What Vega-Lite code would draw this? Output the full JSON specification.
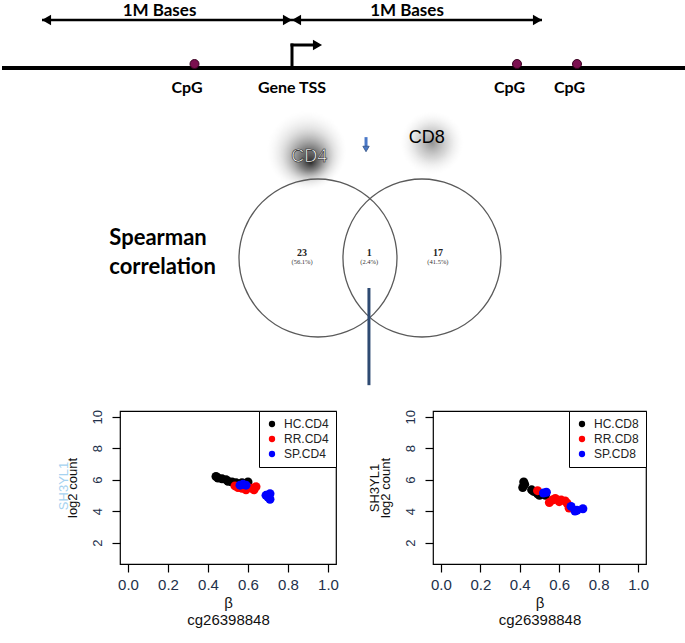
{
  "$schema": "https://vega.github.io/schema/vega-lite/v6.json",
  "padding": 0,
  "spacing": 0,
  "background": "white",
  "config": {
    "view": {"stroke": null},
    "font": "Liberation Sans",
    "axis": {"labelFont": "Liberation Sans", "titleFont": "Liberation Sans"},
    "axisY": {"labelOverlap": false, "labelSeparation": 0},
    "axisQuantitative": {"labelOverlap": false},
    "legend": {"labelFont": "Liberation Sans"}
  },
  "vconcat": [
    {
      "width": 685,
      "height": 100,
      "view": {"stroke": null},
      "encoding": {
        "x": {"field": "pos", "type": "quantitative", "scale": {"domain": [-1.16, 1.58], "nice": false, "zero": false}, "axis": null},
        "y": {"field": "level", "type": "quantitative", "scale": {"domain": [-32, 68], "nice": false, "zero": false}, "axis": null}
      },
      "layer": [
        {
          "data": {"values": [{"part": "chromosome", "pos": -1.16, "pos2": 1.58, "level": 0, "level2": 0}]},
          "mark": {"type": "rule", "color": "black", "strokeWidth": 4},
          "encoding": {"x2": {"field": "pos2"}, "y2": {"field": "level2"}}
        },
        {
          "data": {"values": [
            {"part": "tss stem", "pos": 0, "pos2": 0, "level": 0, "level2": 23},
            {"part": "tss arm", "pos": 0, "pos2": 0.1, "level": 23, "level2": 23}
          ]},
          "mark": {"type": "rule", "color": "black", "strokeWidth": 3, "strokeCap": "square"},
          "encoding": {"x2": {"field": "pos2"}, "y2": {"field": "level2"}}
        },
        {
          "data": {"values": [
            {"part": "upstream 1M", "pos": -1, "pos2": 0, "level": 48, "level2": 48},
            {"part": "downstream 1M", "pos": 0, "pos2": 1, "level": 48, "level2": 48}
          ]},
          "mark": {"type": "rule", "color": "black", "strokeWidth": 2.5},
          "encoding": {"x2": {"field": "pos2"}, "y2": {"field": "level2"}}
        },
        {
          "data": {"values": [{"pos": -1, "level": 48}, {"pos": 0, "level": 48}]},
          "mark": {"type": "point", "shape": "triangle-left", "filled": true, "color": "black", "size": 110, "opacity": 1, "xOffset": 4.5}
        },
        {
          "data": {"values": [{"pos": 0, "level": 48}, {"pos": 1, "level": 48}, {"pos": 0.12, "level": 23}]},
          "mark": {"type": "point", "shape": "triangle-right", "filled": true, "color": "black", "size": 110, "opacity": 1, "xOffset": -4.5}
        },
        {
          "data": {"values": [{"site": "CpG", "pos": -0.39, "level": 4}, {"site": "CpG", "pos": 0.9, "level": 4}, {"site": "CpG", "pos": 1.14, "level": 4}]},
          "mark": {"type": "point", "filled": true, "fill": "#7b1050", "stroke": "#3a0020", "strokeWidth": 1, "size": 81, "opacity": 1}
        },
        {
          "data": {"values": [{"label": "1M Bases", "pos": -0.53, "level": 57}, {"label": "1M Bases", "pos": 0.46, "level": 57}]},
          "mark": {"type": "text", "font": "Lato", "fontWeight": "bold", "fontSize": 17, "color": "black", "baseline": "middle"},
          "encoding": {"text": {"field": "label"}}
        },
        {
          "data": {"values": [
            {"label": "CpG", "pos": -0.42, "level": -20},
            {"label": "Gene TSS", "pos": 0.0, "level": -20},
            {"label": "CpG", "pos": 0.87, "level": -20},
            {"label": "CpG", "pos": 1.11, "level": -20}
          ]},
          "mark": {"type": "text", "font": "Lato", "fontWeight": "bold", "fontSize": 16, "color": "black", "baseline": "middle"},
          "encoding": {"text": {"field": "label"}}
        }
      ]
    },
    {
      "width": 685,
      "height": 308,
      "view": {"stroke": null},
      "encoding": {
        "x": {"field": "x", "type": "quantitative", "scale": {"domain": [-4.658, 4.013], "nice": false, "zero": false}, "axis": null},
        "y": {"field": "y", "type": "quantitative", "scale": {"domain": [-1.899, 2.0], "nice": false, "zero": false}, "axis": null}
      },
      "layer": [
        {
          "data": {"values": [{"set": "CD4", "x": -0.80, "y": 1.36}]},
          "mark": {"type": "point", "filled": true, "size": 6400, "opacity": 1, "strokeWidth": 0,
            "fill": {"gradient": "radial", "x1": 0.55, "y1": 0.65, "r1": 0, "x2": 0.5, "y2": 0.5, "r2": 0.5,
              "stops": [
                {"offset": 0, "color": "rgba(30,30,30,0.95)"},
                {"offset": 0.3, "color": "rgba(80,80,80,0.7)"},
                {"offset": 0.65, "color": "rgba(170,170,170,0.35)"},
                {"offset": 1, "color": "rgba(235,235,235,0)"}
              ]}}
        },
        {
          "data": {"values": [{"set": "CD8", "x": 0.785, "y": 1.456}]},
          "mark": {"type": "point", "filled": true, "size": 4000, "opacity": 1, "strokeWidth": 0,
            "fill": {"gradient": "radial", "x1": 0.5, "y1": 0.5, "r1": 0, "x2": 0.5, "y2": 0.5, "r2": 0.5,
              "stops": [
                {"offset": 0, "color": "rgba(120,120,120,0.8)"},
                {"offset": 0.5, "color": "rgba(170,170,170,0.45)"},
                {"offset": 1, "color": "rgba(235,235,235,0)"}
              ]}}
        },
        {
          "data": {"values": [{"set": "CD4", "x": -0.658, "y": 0}, {"set": "CD8", "x": 0.658, "y": 0}]},
          "mark": {"type": "point", "filled": false, "stroke": "#5a5a5a", "strokeWidth": 1.3, "size": 24964, "opacity": 1}
        },
        {
          "data": {"values": [{"label": "23", "x": -0.86, "y": 0.063}, {"label": "1", "x": -0.01, "y": 0.063}, {"label": "17", "x": 0.86, "y": 0.063}]},
          "mark": {"type": "text", "font": "Liberation Serif", "fontWeight": "bold", "fontSize": 10, "color": "#222"},
          "encoding": {"text": {"field": "label"}}
        },
        {
          "data": {"values": [{"label": "(56.1%)", "x": -0.86, "y": -0.05}, {"label": "(2.4%)", "x": -0.01, "y": -0.05}, {"label": "(41.5%)", "x": 0.86, "y": -0.05}]},
          "mark": {"type": "text", "font": "Liberation Serif", "fontSize": 6.5, "color": "#333"},
          "encoding": {"text": {"field": "label"}}
        },
        {
          "data": {"values": [{"label": "Spearman", "x": -3.30, "y": 0.25}, {"label": "correlation", "x": -3.30, "y": -0.11}]},
          "mark": {"type": "text", "font": "Lato", "fontWeight": "bold", "fontSize": 22, "align": "left", "baseline": "middle", "color": "black"},
          "encoding": {"text": {"field": "label"}}
        },
        {
          "data": {"values": [{"label": "CD4", "x": -0.77, "y": 1.28}]},
          "mark": {"type": "text", "fontSize": 18, "fill": "white", "stroke": "#222", "strokeWidth": 0.6, "baseline": "middle"},
          "encoding": {"text": {"field": "label"}}
        },
        {
          "data": {"values": [{"label": "CD8", "x": 0.72, "y": 1.52}]},
          "mark": {"type": "text", "fontSize": 18, "color": "black", "baseline": "middle"},
          "encoding": {"text": {"field": "label"}}
        },
        {
          "data": {"values": [{"x": -0.05, "y": 1.53, "y2": 1.41}]},
          "mark": {"type": "rule", "color": "#4a78c8", "strokeWidth": 3},
          "encoding": {"y2": {"field": "y2"}}
        },
        {
          "data": {"values": [{"x": -0.05, "y": 1.38}]},
          "mark": {"type": "point", "shape": "triangle-down", "filled": true, "fill": "#4a78c8", "stroke": "#2f4f80", "strokeWidth": 0.8, "size": 40, "opacity": 1}
        },
        {
          "data": {"values": [{"x": -0.013, "y": -0.38, "y2": -1.61}]},
          "mark": {"type": "rule", "color": "#2e4a72", "strokeWidth": 3},
          "encoding": {"y2": {"field": "y2"}}
        }
      ]
    },
    {
      "spacing": 27,
      "resolve": {"scale": {"color": "independent"}, "legend": {"color": "independent"}},
      "hconcat": [
        {
          "width": 28,
          "height": 153,
          "view": {"stroke": null},
          "data": {"values": [{}]},
          "mark": {"type": "point", "opacity": 0},
          "encoding": {}
        },
        {
          "width": 216,
          "height": 153,
          "view": {"stroke": "black", "strokeWidth": 1.2},
          "layer": [
            {
              "data": {"values": [
                {"group": "HC.CD4", "beta": 0.44, "count": 6.2},
                {"group": "HC.CD4", "beta": 0.45, "count": 6.1},
                {"group": "HC.CD4", "beta": 0.47, "count": 6.05},
                {"group": "HC.CD4", "beta": 0.49, "count": 6.0},
                {"group": "HC.CD4", "beta": 0.50, "count": 5.9},
                {"group": "HC.CD4", "beta": 0.52, "count": 5.85},
                {"group": "HC.CD4", "beta": 0.54, "count": 5.8},
                {"group": "HC.CD4", "beta": 0.57, "count": 5.8},
                {"group": "HC.CD4", "beta": 0.60, "count": 5.85},
                {"group": "RR.CD4", "beta": 0.535, "count": 5.6},
                {"group": "RR.CD4", "beta": 0.55, "count": 5.5},
                {"group": "RR.CD4", "beta": 0.57, "count": 5.45},
                {"group": "RR.CD4", "beta": 0.59, "count": 5.35},
                {"group": "RR.CD4", "beta": 0.60, "count": 5.5},
                {"group": "RR.CD4", "beta": 0.62, "count": 5.45},
                {"group": "RR.CD4", "beta": 0.64, "count": 5.55},
                {"group": "RR.CD4", "beta": 0.63, "count": 5.35},
                {"group": "SP.CD4", "beta": 0.56, "count": 5.65},
                {"group": "SP.CD4", "beta": 0.575, "count": 5.7},
                {"group": "SP.CD4", "beta": 0.59, "count": 5.65},
                {"group": "SP.CD4", "beta": 0.69, "count": 5.0},
                {"group": "SP.CD4", "beta": 0.71, "count": 5.1},
                {"group": "SP.CD4", "beta": 0.71, "count": 4.75},
                {"group": "SP.CD4", "beta": 0.70, "count": 4.9}
              ]},
              "mark": {"type": "point", "filled": true, "size": 81, "opacity": 1},
              "encoding": {
                "x": {"field": "beta", "type": "quantitative", "scale": {"domain": [-0.04, 1.04], "nice": false, "zero": false},
                  "axis": {"values": [0, 0.2, 0.4, 0.6, 0.8, 1.0], "format": ".1f", "domain": false, "grid": false, "tickSize": 8, "tickColor": "black", "tickWidth": 1.2,
                    "labelFontSize": 15, "labelColor": "#22304a", "labelPadding": 5, "labelOverlap": false,
                    "title": ["β", "cg26398848"], "titleFontSize": 15, "titleFontWeight": "normal", "titleColor": "#111", "titlePadding": 3, "titleLineHeight": 17}},
                "y": {"field": "count", "type": "quantitative", "scale": {"domain": [0.64, 10.36], "nice": false, "zero": false},
                  "axis": {"values": [2, 4, 6, 8, 10], "domain": false, "grid": false, "tickSize": 8, "tickColor": "black", "tickWidth": 1.2,
                    "labelAngle": 270, "labelAlign": "center", "labelBaseline": "bottom", "labelFontSize": 13, "labelColor": "#22304a", "labelPadding": 8, "labelOverlap": false, "labelFlush": false, "labelSeparation": 0,
                    "title": "log2 count", "titleFontSize": 13, "titleFontWeight": "normal", "titleColor": "#111", "titlePadding": 12}},
                "color": {"field": "group", "type": "nominal",
                  "scale": {"domain": ["HC.CD4", "RR.CD4", "SP.CD4"], "range": ["black", "red", "blue"]},
                  "legend": {"orient": "top-right", "title": null, "offset": 0, "padding": 7, "strokeColor": "black", "fillColor": "white",
                    "labelFontSize": 12, "labelColor": "#222", "symbolSize": 40, "symbolType": "circle", "rowPadding": 3, "labelOffset": 6}}
              }
            },
            {
              "data": {"values": [{"label": "SH3YL1"}]},
              "mark": {"type": "text", "angle": 270, "fontSize": 13, "color": "#a6d2f0", "baseline": "middle"},
              "encoding": {
                "x": {"datum": -0.32, "type": "quantitative",
                  "axis": {"values": [0, 0.2, 0.4, 0.6, 0.8, 1.0], "format": ".1f", "domain": false, "grid": false, "tickSize": 8, "tickColor": "black", "tickWidth": 1.2,
                    "labelFontSize": 15, "labelColor": "#22304a", "labelPadding": 5, "labelOverlap": false,
                    "title": ["β", "cg26398848"], "titleFontSize": 15, "titleFontWeight": "normal", "titleColor": "#111", "titlePadding": 3, "titleLineHeight": 17}},
                "y": {"datum": 5.6, "type": "quantitative",
                  "axis": {"values": [2, 4, 6, 8, 10], "domain": false, "grid": false, "tickSize": 8, "tickColor": "black", "tickWidth": 1.2,
                    "labelAngle": 270, "labelAlign": "center", "labelBaseline": "bottom", "labelFontSize": 13, "labelColor": "#22304a", "labelPadding": 8, "labelOverlap": false, "labelFlush": false, "labelSeparation": 0,
                    "title": "log2 count", "titleFontSize": 13, "titleFontWeight": "normal", "titleColor": "#111", "titlePadding": 12}},
                "text": {"field": "label"}
              }
            }
          ]
        },
        {
          "width": 213,
          "height": 153,
          "view": {"stroke": "black", "strokeWidth": 1.2},
          "data": {"values": [
            {"group": "HC.CD8", "beta": 0.42, "count": 5.85},
            {"group": "HC.CD8", "beta": 0.425, "count": 5.7},
            {"group": "HC.CD8", "beta": 0.415, "count": 5.5},
            {"group": "HC.CD8", "beta": 0.46, "count": 5.35},
            {"group": "HC.CD8", "beta": 0.47, "count": 5.25},
            {"group": "HC.CD8", "beta": 0.49, "count": 5.1},
            {"group": "HC.CD8", "beta": 0.50, "count": 5.0},
            {"group": "HC.CD8", "beta": 0.53, "count": 5.0},
            {"group": "RR.CD8", "beta": 0.49, "count": 5.3},
            {"group": "RR.CD8", "beta": 0.55, "count": 4.55},
            {"group": "RR.CD8", "beta": 0.565, "count": 4.7},
            {"group": "RR.CD8", "beta": 0.58, "count": 4.8},
            {"group": "RR.CD8", "beta": 0.60, "count": 4.6},
            {"group": "RR.CD8", "beta": 0.61, "count": 4.7},
            {"group": "RR.CD8", "beta": 0.63, "count": 4.65},
            {"group": "RR.CD8", "beta": 0.64, "count": 4.5},
            {"group": "RR.CD8", "beta": 0.65, "count": 4.2},
            {"group": "SP.CD8", "beta": 0.52, "count": 5.15},
            {"group": "SP.CD8", "beta": 0.535, "count": 5.2},
            {"group": "SP.CD8", "beta": 0.66, "count": 4.3},
            {"group": "SP.CD8", "beta": 0.68, "count": 4.0},
            {"group": "SP.CD8", "beta": 0.69, "count": 4.05},
            {"group": "SP.CD8", "beta": 0.72, "count": 4.15}
          ]},
          "mark": {"type": "point", "filled": true, "size": 81, "opacity": 1},
          "encoding": {
            "x": {"field": "beta", "type": "quantitative", "scale": {"domain": [-0.04, 1.04], "nice": false, "zero": false},
              "axis": {"values": [0, 0.2, 0.4, 0.6, 0.8, 1.0], "format": ".1f", "domain": false, "grid": false, "tickSize": 8, "tickColor": "black", "tickWidth": 1.2,
                "labelFontSize": 15, "labelColor": "#22304a", "labelPadding": 5, "labelOverlap": false,
                "title": ["β", "cg26398848"], "titleFontSize": 15, "titleFontWeight": "normal", "titleColor": "#111", "titlePadding": 3, "titleLineHeight": 17}},
            "y": {"field": "count", "type": "quantitative", "scale": {"domain": [0.64, 10.36], "nice": false, "zero": false},
              "axis": {"values": [2, 4, 6, 8, 10], "domain": false, "grid": false, "tickSize": 8, "tickColor": "black", "tickWidth": 1.2,
                "labelAngle": 270, "labelAlign": "center", "labelBaseline": "bottom", "labelFontSize": 13, "labelColor": "#22304a", "labelPadding": 8, "labelOverlap": false, "labelFlush": false, "labelSeparation": 0,
                "title": ["SH3YL1", "log2 count"], "titleFontSize": 13, "titleFontWeight": "normal", "titleColor": "#111", "titlePadding": 12, "titleLineHeight": 11}},
            "color": {"field": "group", "type": "nominal",
              "scale": {"domain": ["HC.CD8", "RR.CD8", "SP.CD8"], "range": ["black", "red", "blue"]},
              "legend": {"orient": "top-right", "title": null, "offset": 0, "padding": 7, "strokeColor": "black", "fillColor": "white",
                "labelFontSize": 12, "labelColor": "#222", "symbolSize": 40, "symbolType": "circle", "rowPadding": 3, "labelOffset": 6}}
          }
        }
      ]
    }
  ]
}
